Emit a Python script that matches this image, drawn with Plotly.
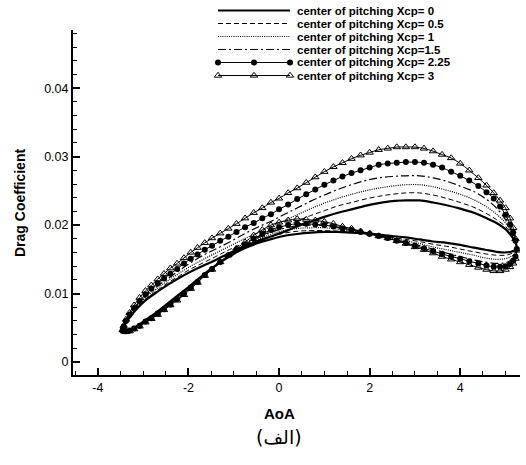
import plotly.graph_objects as go

# ---------------- data ----------------
# angle-of-attack samples for the line-only loops
AOA = [-3.45, -3.4, -3.3, -3.15, -2.95, -2.7, -2.45, -2.2, -1.95, -1.7, -1.4, -1.1,
       -0.8, -0.5, -0.2, 0.1, 0.4, 0.7, 1.0, 1.3, 1.6, 1.9, 2.2, 2.5, 2.8, 3.1, 3.4,
       3.7, 4.0, 4.3, 4.55, 4.8, 5.0, 5.12, 5.2, 5.25]
# angle-of-attack samples for the loops drawn with symbols (denser)
AOA_SYM = [-3.45, -3.43, -3.38, -3.3, -3.2, -3.08, -2.95, -2.82, -2.68, -2.54, -2.4, -2.25,
           -2.1, -1.95, -1.8, -1.64, -1.48, -1.3, -1.12, -0.94, -0.75, -0.56, -0.37, -0.18,
           0.0, 0.2, 0.4, 0.6, 0.8, 1.0, 1.2, 1.4, 1.6, 1.8, 2.0, 2.2, 2.4, 2.6, 2.8, 3.0,
           3.2, 3.4, 3.6, 3.8, 4.0, 4.2, 4.4, 4.58, 4.74, 4.88, 5.0, 5.1, 5.17, 5.22, 5.25]

# upper branch (left tip -> upper right -> right tip)
CD_UP_XCP0 = [0.0047, 0.0055, 0.0065, 0.0077, 0.0090, 0.0102, 0.0113, 0.0123, 0.0132, 0.0140, 0.0149, 0.0159,
              0.0168, 0.0176, 0.0183, 0.0190, 0.0198, 0.0205, 0.0212, 0.0218, 0.0223, 0.0228, 0.0232, 0.0235,
              0.0236, 0.0236, 0.0233, 0.0229, 0.0224, 0.0218, 0.0211, 0.0203, 0.0194, 0.0185, 0.0177, 0.0167]
CD_UP_XCP05 = [0.0047, 0.0055, 0.0066, 0.0079, 0.0092, 0.0104, 0.0116, 0.0126, 0.0136, 0.0144, 0.0154, 0.0164,
               0.0173, 0.0182, 0.0190, 0.0198, 0.0206, 0.0214, 0.0221, 0.0228, 0.0233, 0.0238, 0.0242, 0.0245,
               0.0247, 0.0247, 0.0244, 0.0239, 0.0233, 0.0226, 0.0218, 0.0208, 0.0198, 0.0188, 0.0178, 0.0166]
CD_UP_XCP1 = [0.0047, 0.0055, 0.0067, 0.0080, 0.0094, 0.0107, 0.0119, 0.0130, 0.0140, 0.0149, 0.0159, 0.0169,
              0.0179, 0.0188, 0.0197, 0.0206, 0.0215, 0.0224, 0.0232, 0.0239, 0.0245, 0.0250, 0.0254, 0.0257,
              0.0259, 0.0259, 0.0256, 0.0251, 0.0245, 0.0237, 0.0228, 0.0216, 0.0203, 0.0191, 0.0179, 0.0166]
CD_UP_XCP15 = [0.0047, 0.0056, 0.0068, 0.0082, 0.0096, 0.0110, 0.0122, 0.0134, 0.0145, 0.0155, 0.0165, 0.0175,
               0.0186, 0.0196, 0.0205, 0.0215, 0.0225, 0.0235, 0.0244, 0.0252, 0.0259, 0.0265, 0.0269, 0.0271,
               0.0272, 0.0272, 0.0269, 0.0264, 0.0257, 0.0249, 0.0239, 0.0225, 0.0208, 0.0193, 0.0180, 0.0165]
CD_UP_XCP225 = [0.0047, 0.0052, 0.0060, 0.0069, 0.0079, 0.0089, 0.0099, 0.0107, 0.0115, 0.0122, 0.0129, 0.0136,
                0.0144, 0.0151, 0.0157, 0.0164, 0.0170, 0.0177, 0.0183, 0.0190, 0.0197, 0.0203, 0.0210, 0.0216,
                0.0223, 0.0230, 0.0238, 0.0245, 0.0252, 0.0259, 0.0265, 0.0271, 0.0276, 0.0280, 0.0284, 0.0288,
                0.0290, 0.0291, 0.0292, 0.0292, 0.0291, 0.0288, 0.0284, 0.0278, 0.0272, 0.0265, 0.0257, 0.0248,
                0.0239, 0.0227, 0.0215, 0.0201, 0.0189, 0.0177, 0.0165]
CD_UP_XCP3 = [0.0047, 0.0053, 0.0062, 0.0072, 0.0083, 0.0094, 0.0104, 0.0112, 0.0121, 0.0129, 0.0137, 0.0144,
              0.0152, 0.0160, 0.0167, 0.0174, 0.0181, 0.0188, 0.0195, 0.0202, 0.0210, 0.0218, 0.0225, 0.0233,
              0.0239, 0.0247, 0.0254, 0.0262, 0.0270, 0.0278, 0.0285, 0.0291, 0.0297, 0.0302, 0.0306, 0.0310,
              0.0312, 0.0314, 0.0314, 0.0314, 0.0312, 0.0308, 0.0303, 0.0298, 0.0290, 0.0280, 0.0269, 0.0258,
              0.0247, 0.0236, 0.0225, 0.0210, 0.0196, 0.0180, 0.0163]

# lower branch (left tip -> lower right -> right tip)
CD_LO_XCP0 = [0.0047, 0.0045, 0.0046, 0.0052, 0.0061, 0.0073, 0.0086, 0.0099, 0.0112, 0.0126, 0.0141, 0.0154,
              0.0165, 0.0173, 0.0179, 0.0184, 0.0187, 0.0189, 0.0190, 0.0190, 0.0189, 0.0188, 0.0186, 0.0184,
              0.0182, 0.0179, 0.0176, 0.0174, 0.0171, 0.0167, 0.0164, 0.0161, 0.0160, 0.0161, 0.0163, 0.0167]
CD_LO_XCP05 = [0.0047, 0.0045, 0.0046, 0.0052, 0.0060, 0.0072, 0.0085, 0.0098, 0.0111, 0.0125, 0.0141, 0.0155,
               0.0167, 0.0176, 0.0183, 0.0188, 0.0191, 0.0192, 0.0192, 0.0191, 0.0190, 0.0188, 0.0185, 0.0182,
               0.0179, 0.0176, 0.0172, 0.0169, 0.0165, 0.0161, 0.0158, 0.0156, 0.0156, 0.0158, 0.0161, 0.0166]
CD_LO_XCP1 = [0.0047, 0.0045, 0.0046, 0.0051, 0.0060, 0.0071, 0.0084, 0.0097, 0.0110, 0.0124, 0.0140, 0.0155,
              0.0168, 0.0178, 0.0186, 0.0192, 0.0195, 0.0196, 0.0196, 0.0194, 0.0191, 0.0188, 0.0185, 0.0181,
              0.0177, 0.0173, 0.0168, 0.0164, 0.0160, 0.0156, 0.0152, 0.0150, 0.0151, 0.0154, 0.0158, 0.0166]
CD_LO_XCP15 = [0.0047, 0.0045, 0.0046, 0.0051, 0.0059, 0.0070, 0.0083, 0.0096, 0.0110, 0.0124, 0.0140, 0.0156,
               0.0169, 0.0180, 0.0189, 0.0195, 0.0199, 0.0200, 0.0199, 0.0197, 0.0193, 0.0189, 0.0185, 0.0180,
               0.0175, 0.0170, 0.0165, 0.0159, 0.0154, 0.0149, 0.0146, 0.0144, 0.0145, 0.0149, 0.0155, 0.0165]
CD_LO_XCP225 = [0.0047, 0.0045, 0.0045, 0.0046, 0.0049, 0.0053, 0.0059, 0.0064, 0.0071, 0.0077, 0.0084, 0.0092,
                0.0100, 0.0109, 0.0117, 0.0127, 0.0136, 0.0146, 0.0156, 0.0164, 0.0172, 0.0180, 0.0187, 0.0193,
                0.0197, 0.0200, 0.0202, 0.0202, 0.0201, 0.0200, 0.0198, 0.0195, 0.0193, 0.0190, 0.0187, 0.0184,
                0.0181, 0.0177, 0.0174, 0.0170, 0.0166, 0.0162, 0.0158, 0.0154, 0.0151, 0.0147, 0.0144, 0.0141,
                0.0139, 0.0139, 0.0140, 0.0143, 0.0148, 0.0154, 0.0165]
CD_LO_XCP3 = [0.0047, 0.0045, 0.0044, 0.0045, 0.0048, 0.0052, 0.0058, 0.0063, 0.0069, 0.0076, 0.0083, 0.0090,
              0.0098, 0.0107, 0.0116, 0.0126, 0.0135, 0.0146, 0.0156, 0.0166, 0.0175, 0.0185, 0.0193, 0.0200,
              0.0204, 0.0207, 0.0209, 0.0208, 0.0207, 0.0205, 0.0202, 0.0198, 0.0195, 0.0191, 0.0188, 0.0184,
              0.0181, 0.0177, 0.0173, 0.0168, 0.0164, 0.0159, 0.0154, 0.0150, 0.0146, 0.0142, 0.0138, 0.0135,
              0.0133, 0.0133, 0.0135, 0.0139, 0.0144, 0.0151, 0.0163]

SERIES_NAMES = ["center of pitching Xcp= 0", "center of pitching Xcp= 0.5", "center of pitching Xcp= 1",
                "center of pitching Xcp=1.5", "center of pitching Xcp= 2.25", "center of pitching Xcp= 3"]
SERIES_AOA = [AOA, AOA, AOA, AOA, AOA_SYM, AOA_SYM]
UPPER = [CD_UP_XCP0, CD_UP_XCP05, CD_UP_XCP1, CD_UP_XCP15, CD_UP_XCP225, CD_UP_XCP3]
LOWER = [CD_LO_XCP0, CD_LO_XCP05, CD_LO_XCP1, CD_LO_XCP15, CD_LO_XCP225, CD_LO_XCP3]

X_TICKS = [-4, -2, 0, 2, 4]
Y_TICKS = [0, 0.01, 0.02, 0.03, 0.04]
Y_TICKTEXT = ["0", "0.01", "0.02", "0.03", "0.04"]
X_TITLE = "AoA"
Y_TITLE = "Drag Coefficient"
CAPTION = "(الف)"

# ---------------- styles ----------------
W, H = 526, 465
PL, PR, PT, PB = 73, 520, 30, 375        # plot area in px
FONT = "Liberation Sans, Arial, sans-serif"
STYLES = [
    dict(line=dict(color="black", width=2.2), mode="lines"),
    dict(line=dict(color="black", width=1, dash="5px,3px"), mode="lines"),
    dict(line=dict(color="black", width=1.2, dash="1px,1.2px"), mode="lines"),
    dict(line=dict(color="black", width=1.2, dash="8px,3px,2px,3px"), mode="lines"),
    dict(line=dict(color="black", width=1), mode="lines+markers",
         marker=dict(symbol="circle", size=6, color="black")),
    dict(line=dict(color="black", width=1), mode="lines+markers",
         marker=dict(symbol="triangle-up-open", size=6.5, color="black", line=dict(width=1, color="black"))),
]

fig = go.Figure()
for name, aoa, up, lo, st in zip(SERIES_NAMES, SERIES_AOA, UPPER, LOWER, STYLES):
    xs = aoa + aoa[::-1][1:]
    ys = up + lo[::-1][1:]
    fig.add_trace(go.Scatter(x=xs, y=ys, name=name, showlegend=False,
                             line_shape="spline", **st))

# ---------------- hand-made legend (compact rows like the original) ----------------
LEG_ROWS = [10.5, 23.5, 36.5, 49.5, 62.5, 75.5]
LEG_X0, LEG_X1, LEG_TX = 218, 290, 295
for name, row, st in zip(SERIES_NAMES, LEG_ROWS, STYLES):
    fig.add_trace(go.Scatter(x=[LEG_X0, (LEG_X0 + LEG_X1) / 2, LEG_X1], y=[row] * 3,
                             xaxis="x2", yaxis="y2", showlegend=False, hoverinfo="skip",
                             cliponaxis=False, **st))
    fig.add_annotation(x=LEG_TX / W, y=1 - row / H, xref="paper", yref="paper",
                       text="<b>%s</b>" % name, showarrow=False, xanchor="left", yanchor="middle",
                       font=dict(family=FONT, size=11.5, color="black"))

# axis titles and caption
fig.add_annotation(x=279 / W, y=1 - 413 / H, xref="paper", yref="paper", text="<b>%s</b>" % X_TITLE,
                   showarrow=False, xanchor="center", yanchor="middle",
                   font=dict(family=FONT, size=15, color="black"))
fig.add_annotation(x=20 / W, y=1 - 203 / H, xref="paper", yref="paper", text="<b>%s</b>" % Y_TITLE,
                   showarrow=False, xanchor="center", yanchor="middle", textangle=-90,
                   font=dict(family=FONT, size=14, color="black"))
fig.add_annotation(x=279 / W, y=1 - 437 / H, xref="paper", yref="paper", text=CAPTION,
                   showarrow=False, xanchor="center", yanchor="middle",
                   font=dict(family="DejaVu Sans, Noto Sans, sans-serif", size=19, color="black"))

axis_common = dict(showgrid=False, zeroline=False, showline=True, linecolor="black", linewidth=2,
                   ticks="inside", ticklen=7, tickwidth=1.5, tickcolor="black",
                   tickfont=dict(family=FONT, size=12.5, color="black"), automargin=False)
fig.update_layout(
    width=W, height=H, margin=dict(l=0, r=0, t=0, b=0),
    paper_bgcolor="white", plot_bgcolor="rgba(0,0,0,0)",
    xaxis=dict(domain=[PL / W, PR / W], range=[-4.55, 5.32], tickvals=X_TICKS,
               ticktext=[str(v) for v in X_TICKS],
               minor=dict(dtick=0.5, tick0=0, ticks="inside", ticklen=4, tickwidth=1, tickcolor="black"),
               **axis_common),
    yaxis=dict(domain=[1 - PB / H, 1 - PT / H], range=[-0.0019, 0.0485], tickvals=Y_TICKS,
               ticktext=Y_TICKTEXT,
               minor=dict(dtick=0.002, tick0=0, ticks="inside", ticklen=4, tickwidth=1, tickcolor="black"),
               **axis_common),
    xaxis2=dict(domain=[0, 1], range=[0, W], visible=False, anchor="y2", fixedrange=True),
    yaxis2=dict(domain=[0, 1], range=[H, 0], visible=False, anchor="x2", fixedrange=True),
    showlegend=False,
)

fig.write_html("out.html")
